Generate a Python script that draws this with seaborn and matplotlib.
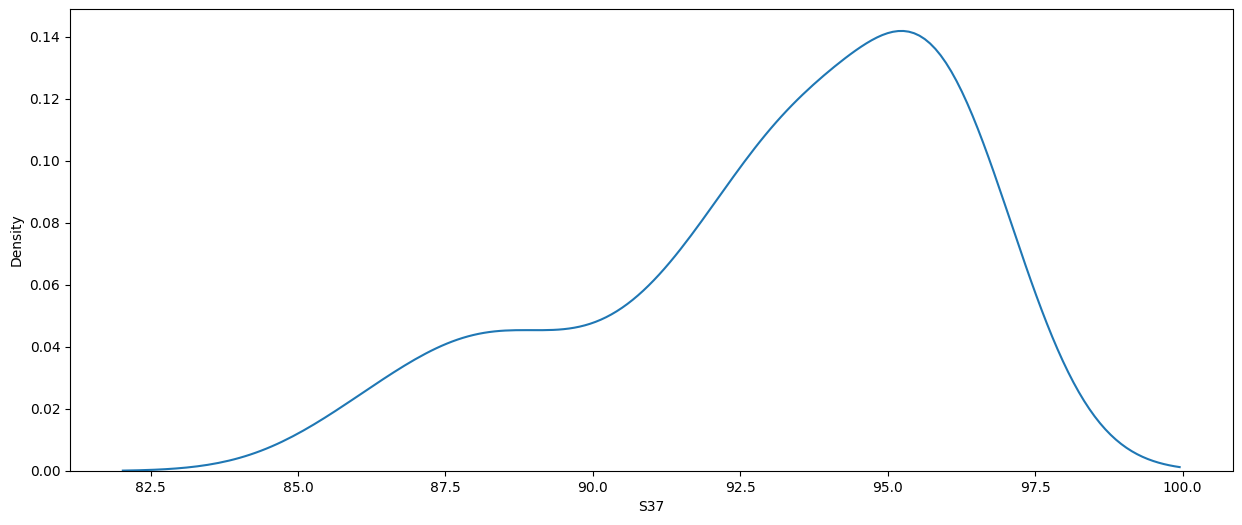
import numpy as np
import pandas as pd
import matplotlib
matplotlib.use("Agg")
import matplotlib.pyplot as plt
import seaborn as sns

# S37 的取值和出现次数
s37_values = [86.08, 86.84, 87.59, 88.09, 88.35, 88.60, 88.85, 89.35,
              90.36, 90.86, 91.12, 91.37, 91.62, 92.12, 92.37, 92.88,
              93.13, 93.38, 93.63, 93.89, 94.14, 94.39, 95.90]
s37_counts = [2, 1, 1, 2, 1, 1, 1, 1,
              1, 1, 1, 1, 2, 1, 1, 2,
              2, 3, 4, 3, 1, 1, 21]

data = pd.DataFrame({'S37': np.repeat(s37_values, s37_counts)})

# 密度曲线
fig = plt.figure(figsize=(12.42, 5.25), dpi=100)
plt.subplots_adjust(left=70/1242, right=1232.5/1242, bottom=54/525, top=516/525)
sns.kdeplot(data['S37'])
plt.xlabel('S37')
plt.ylabel('Density')
plt.savefig('out.png', dpi=100)
